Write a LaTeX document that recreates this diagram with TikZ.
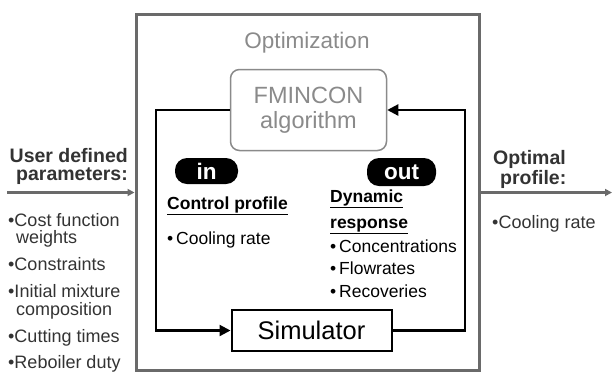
\documentclass[tikz,border=0pt]{standalone}
\usepackage{fontspec}
\setmainfont{Liberation Sans}
\usetikzlibrary{arrows.meta}
\definecolor{boxgray}{HTML}{6A6A6A}
\definecolor{lightgray2}{HTML}{8A8A8A}
\definecolor{txtdark}{HTML}{333333}
\newcommand{\fs}[2]{\fontsize{#1}{#2}\selectfont}
\tikzset{
  outerbox/.style={draw=boxgray, line width=3pt, minimum width=343pt, minimum height=356pt, inner sep=0pt},
  fminbox/.style={draw=lightgray2, line width=1.5pt, rounded corners=9pt, minimum width=156pt, minimum height=81pt, align=center, text=lightgray2, font=\fs{23.5}{25}, inner sep=0pt},
  simbox/.style={draw=black, line width=2pt, minimum width=160pt, minimum height=41pt, font=\fs{25.5}{28}, inner sep=0pt},
  pill/.style={fill=black, rounded corners=12pt, text=white, font=\bfseries\fs{22.5}{24}, inner sep=0pt},
  loopline/.style={draw=black, line width=2.2pt},
  looparrow/.style={loopline, -{Triangle[length=11pt,width=11pt]}},
  grayarrow/.style={draw=boxgray, line width=2.5pt, -{Triangle[length=7pt,width=7pt]}},
  headtxt/.style={font=\bfseries\fs{19.5}{19.5}, text=txtdark, inner sep=0pt},
  listtxt/.style={font=\fs{18}{18}, text=txtdark, inner sep=0pt},
  innertxt/.style={font=\fs{17.5}{20}, text=black, inner sep=0pt},
  innerhead/.style={font=\bfseries\fs{17.5}{20}, text=black, inner sep=0pt},
}
\begin{document}
\begin{tikzpicture}[x=1pt,y=-1pt]
\useasboundingbox (0,0) rectangle (613,373);
% outer box
\node[outerbox] (outer) at (307.5,192) {};
\node[font=\fs{22.5}{24}, text=lightgray2, inner sep=0pt] (opt) at (307,43) {Optimization};
% FMINCON
\node[fminbox] (fmin) at (308.5,110) {FMINCON\\algorithm};
% Simulator
\node[simbox] (sim) at (311.5,330.5) {Simulator};
% loop
\coordinate (cl) at (156,330.5);
\coordinate (ct) at (465,110);
\draw[looparrow] (fmin.west) -| (cl) -- (sim.west);
\draw[looparrow] (sim.east) -| (ct) -- (fmin.east);
% pills
\node[pill, minimum width=63pt, minimum height=26pt] (in) at (206.5,171) {in};
\node[pill, minimum width=69pt, minimum height=28pt] (out) at (401.5,172) {out};
% inner texts
\node[innerhead, anchor=base west] (cp) at (167,209) {\underline{Control profile}};
\node[innertxt, anchor=base west] (cr) at (167,244) {\textbullet\,Cooling rate};
\node[innerhead, anchor=base west] (dyn1) at (330,202) {\underline{Dynamic}};
\node[innerhead, anchor=base west] (dyn2) at (330,228) {\underline{response}};
\node[innertxt, anchor=base west] (d1) at (330,252) {\textbullet\,Concentrations};
\node[innertxt, anchor=base west] (d2) at (330,274) {\textbullet\,Flowrates};
\node[innertxt, anchor=base west] (d3) at (330,297) {\textbullet\,Recoveries};
% left side
\node[headtxt, anchor=base east] (udp1) at (128,162) {User defined};
\node[headtxt, anchor=base east] (udp2) at (128,180) {parameters:};
\coordinate (ls) at (7,192.5);
\draw[grayarrow] (ls) -- (ls -| outer.west);
\node[listtxt, anchor=base west] (l1) at (8,226) {\textbullet Cost function};
\node[listtxt, anchor=base west] (l1b) at (16,243) {weights};
\node[listtxt, anchor=base west] (l2) at (8,270) {\textbullet Constraints};
\node[listtxt, anchor=base west] (l3) at (8,297) {\textbullet Initial mixture};
\node[listtxt, anchor=base west] (l3b) at (16,315) {composition};
\node[listtxt, anchor=base west] (l4) at (8,342) {\textbullet Cutting times};
\node[listtxt, anchor=base west] (l5) at (8,368) {\textbullet Reboiler duty};
% right side
\node[headtxt, anchor=base west] (op1) at (493,164) {Optimal};
\node[headtxt, anchor=base west] (op2) at (500,184) {profile:};
\coordinate (re) at (612,192.5);
\draw[grayarrow] (re -| outer.east) -- (re);
\node[listtxt, anchor=base west] (r1) at (492,228) {\textbullet Cooling rate};
\end{tikzpicture}
\end{document}
